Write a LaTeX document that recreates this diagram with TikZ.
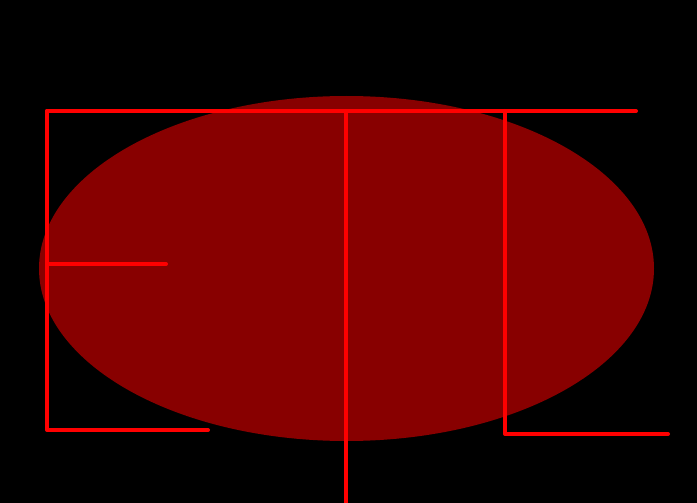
\documentclass[tikz,border=0pt]{standalone}
\definecolor{ellred}{HTML}{880000}
\definecolor{linered}{HTML}{FF0000}
\tikzset{redline/.style={draw=linered, line width=4pt, line cap=round, line join=round}}
\begin{document}
\begin{tikzpicture}[x=1pt,y=-1pt]
\fill[black] (0,0) rectangle (697,503);
\useasboundingbox (0,0) rectangle (697,503);
\fill[ellred] (346.5,268.5) ellipse [x radius=307.5, y radius=172.5];
\draw[redline] (47,111) -- (636,111);
\draw[redline] (47,111) -- (47,430) -- (208,430);
\draw[redline] (47,264) -- (166,264);
\draw[redline] (346,111) -- (346,505);
\draw[redline] (505,111) -- (505,434) -- (668,434);
\end{tikzpicture}
\end{document}
